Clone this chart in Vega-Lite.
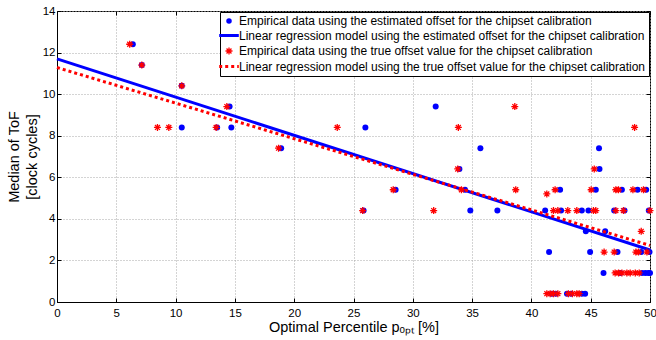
{
  "$schema": "https://vega.github.io/schema/vega-lite/v6.json",
  "width": 593,
  "height": 291,
  "autosize": {"type": "none"},
  "padding": {"left": 57, "top": 11, "right": 6, "bottom": 38},
  "background": "white",
  "config": {
    "font": "Liberation Sans",
    "view": {"stroke": "black", "strokeWidth": 1},
    "axis": {
      "domainColor": "black", "domainWidth": 1, "tickColor": "black", "tickSize": -4, "tickWidth": 1,
      "labelFont": "Liberation Sans", "titleFont": "Liberation Sans",
      "labelFontSize": 11.5, "labelColor": "black", "titleColor": "black", "titleFontWeight": "normal",
      "gridColor": "#a8a8a8", "gridDash": [1, 2], "gridWidth": 1, "labelFlush": false, "labelOverlap": false
    },
    "legend": {
      "orient": "top-right", "offset": 1, "title": null,
      "labelFont": "Liberation Sans", "labelFontSize": 12, "labelColor": "black", "labelLimit": 600,
      "strokeColor": "black", "strokeWidth": 1, "fillColor": "white", "padding": 3, "rowPadding": 2.5,
      "symbolSize": 196, "labelOffset": 4
    }
  },
  "datasets": {
    "blue": [
      {"x": 6.39, "y": 12.4}, {"x": 7.15, "y": 11.4}, {"x": 10.52, "y": 10.4}, {"x": 10.52, "y": 8.4},
      {"x": 13.5, "y": 8.4}, {"x": 14.7, "y": 8.4}, {"x": 14.55, "y": 9.4}, {"x": 18.9, "y": 7.4},
      {"x": 26.0, "y": 8.4}, {"x": 25.85, "y": 4.4}, {"x": 28.55, "y": 5.4}, {"x": 31.93, "y": 9.4},
      {"x": 35.7, "y": 7.4}, {"x": 45.7, "y": 7.4}, {"x": 33.93, "y": 6.4}, {"x": 45.74, "y": 6.4},
      {"x": 34.4, "y": 5.4}, {"x": 42.42, "y": 5.4}, {"x": 45.43, "y": 5.4}, {"x": 47.63, "y": 5.4},
      {"x": 48.95, "y": 5.4}, {"x": 49.68, "y": 5.4}, {"x": 34.85, "y": 4.4}, {"x": 37.13, "y": 4.4},
      {"x": 41.16, "y": 4.4}, {"x": 42.5, "y": 4.4}, {"x": 44.25, "y": 4.4}, {"x": 44.81, "y": 4.4},
      {"x": 46.98, "y": 4.4}, {"x": 47.85, "y": 4.4}, {"x": 49.9, "y": 4.4}, {"x": 44.59, "y": 3.4},
      {"x": 46.22, "y": 3.4}, {"x": 41.49, "y": 2.4}, {"x": 44.95, "y": 2.4}, {"x": 47.26, "y": 2.4},
      {"x": 49.26, "y": 2.4}, {"x": 49.96, "y": 2.4}, {"x": 46.08, "y": 1.4}, {"x": 47.5, "y": 1.4},
      {"x": 49.32, "y": 1.4}, {"x": 49.6, "y": 1.4}, {"x": 49.85, "y": 1.4}, {"x": 50.0, "y": 1.4},
      {"x": 41.72, "y": 0.4}, {"x": 42.06, "y": 0.4}, {"x": 43.0, "y": 0.4}, {"x": 43.35, "y": 0.4},
      {"x": 44.25, "y": 0.4}, {"x": 44.53, "y": 0.4}
    ],
    "red": [
      {"x": 6.13, "y": 12.4}, {"x": 7.15, "y": 11.4}, {"x": 10.52, "y": 10.4}, {"x": 8.47, "y": 8.4},
      {"x": 9.43, "y": 8.4}, {"x": 13.42, "y": 8.4}, {"x": 14.32, "y": 9.4}, {"x": 18.68, "y": 7.4},
      {"x": 23.63, "y": 8.4}, {"x": 25.77, "y": 4.4}, {"x": 28.35, "y": 5.4}, {"x": 31.76, "y": 4.4},
      {"x": 33.84, "y": 8.4}, {"x": 38.6, "y": 9.4}, {"x": 48.7, "y": 8.4}, {"x": 33.79, "y": 6.4},
      {"x": 45.3, "y": 6.4}, {"x": 34.1, "y": 5.4}, {"x": 38.68, "y": 5.4}, {"x": 41.3, "y": 5.2},
      {"x": 42.0, "y": 5.4}, {"x": 45.04, "y": 5.4}, {"x": 47.12, "y": 5.4}, {"x": 47.34, "y": 5.4},
      {"x": 48.56, "y": 5.4}, {"x": 49.45, "y": 5.4}, {"x": 41.86, "y": 4.4}, {"x": 42.23, "y": 4.4},
      {"x": 43.07, "y": 4.4}, {"x": 43.83, "y": 4.4}, {"x": 45.23, "y": 4.4}, {"x": 45.43, "y": 4.4},
      {"x": 47.12, "y": 4.4}, {"x": 47.76, "y": 4.4}, {"x": 50.0, "y": 4.4}, {"x": 49.26, "y": 3.4},
      {"x": 46.13, "y": 2.4}, {"x": 46.98, "y": 2.4}, {"x": 48.81, "y": 2.4}, {"x": 49.03, "y": 2.4},
      {"x": 49.74, "y": 2.4}, {"x": 47.06, "y": 1.4}, {"x": 47.35, "y": 1.4}, {"x": 47.63, "y": 1.4},
      {"x": 48.05, "y": 1.4}, {"x": 48.33, "y": 1.4}, {"x": 48.76, "y": 1.4}, {"x": 49.09, "y": 1.4},
      {"x": 41.3, "y": 0.4}, {"x": 41.58, "y": 0.4}, {"x": 41.86, "y": 0.4}, {"x": 42.23, "y": 0.4},
      {"x": 43.12, "y": 0.4}, {"x": 43.46, "y": 0.4}, {"x": 43.83, "y": 0.4}, {"x": 44.03, "y": 0.4}
    ],
    "fitBlue": [{"x": 0, "y": 11.7}, {"x": 50, "y": 2.5}],
    "fitRed": [{"x": 0, "y": 11.28}, {"x": 50, "y": 2.72}]
  },
  "resolve": {"axis": {"x": "independent", "y": "independent"}},
  "layer": [
    {
      "data": {"name": "blue"},
      "transform": [{"calculate": "'a'", "as": "s"}],
      "mark": {"type": "point", "shape": "circle", "filled": true, "opacity": 1, "size": 36},
      "encoding": {
        "x": {"field": "x", "type": "quantitative", "scale": {"domain": [0, 50], "nice": false},
          "axis": {"values": [0, 5, 10, 15, 20, 25, 30, 35, 40, 45, 50], "labelPadding": 9,
            "title": "Optimal Percentile pₒₚₜ [%]", "titleFontSize": 14.5, "titlePadding": 2}},
        "y": {"field": "y", "type": "quantitative", "scale": {"domain": [0, 14], "nice": false},
          "axis": {"values": [0, 2, 4, 6, 8, 10, 12, 14], "labelPadding": 6,
            "title": ["Median of ToF", "[clock cycles]"], "titleFontSize": 14.5, "titleLineHeight": 18, "titlePadding": 3}},
        "color": {"field": "s", "type": "nominal",
          "scale": {"domain": ["a", "b", "c", "d"], "range": ["#0000ff", "#0000ff", "#ff0000", "#ff0000"]},
          "legend": {
            "labelExpr": "datum.value == 'a' ? 'Empirical data using the estimated offset for the chipset calibration' : datum.value == 'b' ? 'Linear regression model using the estimated offset for the chipset calibration' : datum.value == 'c' ? 'Empirical data using the true offset value for the chipset calibration' : 'Linear regression model using the true offset value for the chipset calibration'",
            "encode": {"symbols": {"update": {
              "shape": {"signal": "datum.value == 'a' ? 'circle' : datum.value == 'c' ? 'M0,-1V1M-1,0H1M-0.7,-0.7L0.7,0.7M-0.7,0.7L0.7,-0.7' : 'M-1.4,0H1.4'"},
              "size": {"signal": "datum.value == 'a' ? 30 : datum.value == 'c' ? 49 : 196"},
              "fill": {"signal": "datum.value == 'a' ? '#0000ff' : 'transparent'"},
              "stroke": {"signal": "datum.value == 'a' ? 'transparent' : datum.value == 'b' ? '#0000ff' : '#ff0000'"},
              "strokeWidth": {"signal": "datum.value == 'c' ? 1.3 : datum.value == 'a' ? 0 : 3"},
              "strokeDash": {"signal": "datum.value == 'd' ? [3, 3] : [1, 0]"},
              "opacity": {"value": 1}
            }}}
          }}
      }
    },
    {
      "data": {"name": "fitBlue"},
      "transform": [{"calculate": "'b'", "as": "s"}],
      "mark": {"type": "line", "strokeWidth": 3},
      "encoding": {
        "x": {"field": "x", "type": "quantitative", "axis": null},
        "y": {"field": "y", "type": "quantitative", "axis": null},
        "color": {"field": "s", "type": "nominal",
          "legend": {
            "labelExpr": "datum.value == 'a' ? 'Empirical data using the estimated offset for the chipset calibration' : datum.value == 'b' ? 'Linear regression model using the estimated offset for the chipset calibration' : datum.value == 'c' ? 'Empirical data using the true offset value for the chipset calibration' : 'Linear regression model using the true offset value for the chipset calibration'",
            "encode": {"symbols": {"update": {
              "shape": {"signal": "datum.value == 'a' ? 'circle' : datum.value == 'c' ? 'M0,-1V1M-1,0H1M-0.7,-0.7L0.7,0.7M-0.7,0.7L0.7,-0.7' : 'M-1.4,0H1.4'"},
              "size": {"signal": "datum.value == 'a' ? 30 : datum.value == 'c' ? 49 : 196"},
              "fill": {"signal": "datum.value == 'a' ? '#0000ff' : 'transparent'"},
              "stroke": {"signal": "datum.value == 'a' ? 'transparent' : datum.value == 'b' ? '#0000ff' : '#ff0000'"},
              "strokeWidth": {"signal": "datum.value == 'c' ? 1.3 : datum.value == 'a' ? 0 : 3"},
              "strokeDash": {"signal": "datum.value == 'd' ? [3, 3] : [1, 0]"},
              "opacity": {"value": 1}
            }}}
          }}
      }
    },
    {
      "data": {"name": "red"},
      "transform": [{"calculate": "'c'", "as": "s"}],
      "mark": {"type": "point", "shape": "M0,-1V1M-1,0H1M-0.7,-0.7L0.7,0.7M-0.7,0.7L0.7,-0.7", "filled": false, "opacity": 1, "size": 49, "strokeWidth": 1.3},
      "encoding": {
        "x": {"field": "x", "type": "quantitative", "axis": null},
        "y": {"field": "y", "type": "quantitative", "axis": null},
        "color": {"field": "s", "type": "nominal",
          "legend": {
            "labelExpr": "datum.value == 'a' ? 'Empirical data using the estimated offset for the chipset calibration' : datum.value == 'b' ? 'Linear regression model using the estimated offset for the chipset calibration' : datum.value == 'c' ? 'Empirical data using the true offset value for the chipset calibration' : 'Linear regression model using the true offset value for the chipset calibration'",
            "encode": {"symbols": {"update": {
              "shape": {"signal": "datum.value == 'a' ? 'circle' : datum.value == 'c' ? 'M0,-1V1M-1,0H1M-0.7,-0.7L0.7,0.7M-0.7,0.7L0.7,-0.7' : 'M-1.4,0H1.4'"},
              "size": {"signal": "datum.value == 'a' ? 30 : datum.value == 'c' ? 49 : 196"},
              "fill": {"signal": "datum.value == 'a' ? '#0000ff' : 'transparent'"},
              "stroke": {"signal": "datum.value == 'a' ? 'transparent' : datum.value == 'b' ? '#0000ff' : '#ff0000'"},
              "strokeWidth": {"signal": "datum.value == 'c' ? 1.3 : datum.value == 'a' ? 0 : 3"},
              "strokeDash": {"signal": "datum.value == 'd' ? [3, 3] : [1, 0]"},
              "opacity": {"value": 1}
            }}}
          }}
      }
    },
    {
      "data": {"name": "fitRed"},
      "transform": [{"calculate": "'d'", "as": "s"}],
      "mark": {"type": "line", "strokeWidth": 3, "strokeDash": [3, 3]},
      "encoding": {
        "x": {"field": "x", "type": "quantitative",
          "axis": {"orient": "top", "values": [0, 5, 10, 15, 20, 25, 30, 35, 40, 45, 50], "labels": false, "title": null, "grid": false, "domain": false}},
        "y": {"field": "y", "type": "quantitative",
          "axis": {"orient": "right", "values": [0, 2, 4, 6, 8, 10, 12, 14], "labels": false, "title": null, "grid": false, "domain": false}},
        "color": {"field": "s", "type": "nominal",
          "legend": {
            "labelExpr": "datum.value == 'a' ? 'Empirical data using the estimated offset for the chipset calibration' : datum.value == 'b' ? 'Linear regression model using the estimated offset for the chipset calibration' : datum.value == 'c' ? 'Empirical data using the true offset value for the chipset calibration' : 'Linear regression model using the true offset value for the chipset calibration'",
            "encode": {"symbols": {"update": {
              "shape": {"signal": "datum.value == 'a' ? 'circle' : datum.value == 'c' ? 'M0,-1V1M-1,0H1M-0.7,-0.7L0.7,0.7M-0.7,0.7L0.7,-0.7' : 'M-1.4,0H1.4'"},
              "size": {"signal": "datum.value == 'a' ? 30 : datum.value == 'c' ? 49 : 196"},
              "fill": {"signal": "datum.value == 'a' ? '#0000ff' : 'transparent'"},
              "stroke": {"signal": "datum.value == 'a' ? 'transparent' : datum.value == 'b' ? '#0000ff' : '#ff0000'"},
              "strokeWidth": {"signal": "datum.value == 'c' ? 1.3 : datum.value == 'a' ? 0 : 3"},
              "strokeDash": {"signal": "datum.value == 'd' ? [3, 3] : [1, 0]"},
              "opacity": {"value": 1}
            }}}
          }}
      }
    }
  ]
}
